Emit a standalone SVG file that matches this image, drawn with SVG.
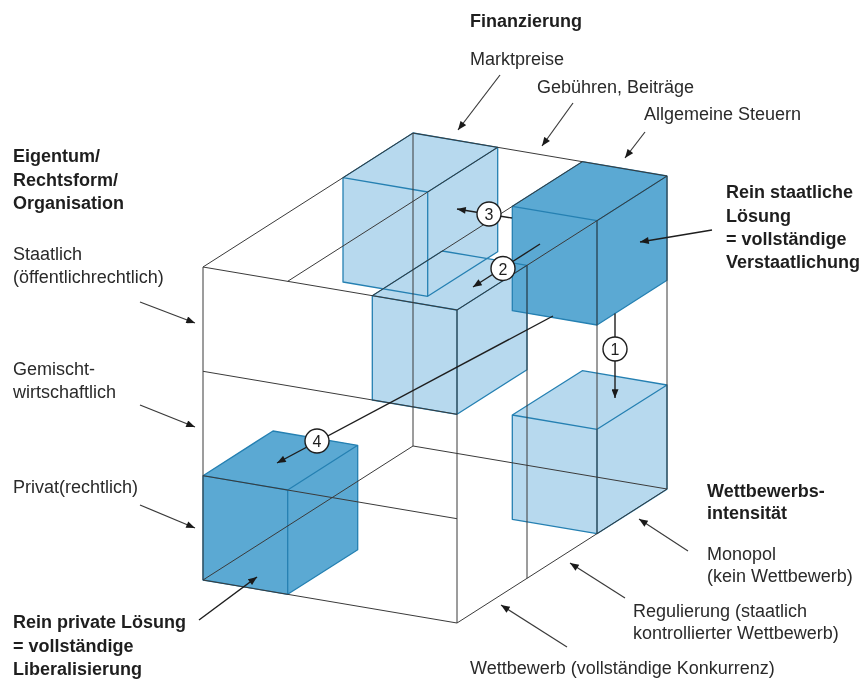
<svg xmlns="http://www.w3.org/2000/svg" width="862" height="680" viewBox="0 0 862 680">
<style>
  text { font-family: "Liberation Sans", Arial, sans-serif; font-size: 18px; fill: #2a2a2a; }
  .b { font-weight: bold; fill: #1e1e1e; }
  .lt { fill: #b7d9ee; mix-blend-mode: darken; }
  .dk { fill: #5ba9d3; mix-blend-mode: darken; }
  .edge { fill: none; stroke: #2580b2; stroke-width: 1.3; stroke-linejoin: round; }
  .wire { fill: none; stroke: #3a3a3a; stroke-width: 1; }
  .arr { fill: none; stroke: #1e1e1e; stroke-width: 1.4; marker-end: url(#ah); }
  .lbl { fill: none; stroke: #3a3a3a; stroke-width: 1.2; marker-end: url(#ah); }
  .num { fill: #ffffff; stroke: #1e1e1e; stroke-width: 1.4; }
  .nt { font-size: 16px; text-anchor: middle; fill: #1e1e1e; }
</style>
<defs>
  <marker id="ah" viewBox="0 0 10 8" refX="10" refY="4" markerWidth="10" markerHeight="7" markerUnits="userSpaceOnUse" orient="auto">
    <path d="M0,0 L10,4 L0,8 Z" fill="#1a1a1a"/>
  </marker>
</defs>

<!-- cubes, back to front -->
<g id="cube-markt-staat-monopol">
  <polygon class="lt" points="343,177.7 413,133 497.7,147.3 497.7,251.7 427.7,296.3 343,282"/>
  <path class="edge" d="M343,177.7 L413,133 L497.7,147.3 L497.7,251.7 L427.7,296.3 L343,282 Z M427.7,192 L343,177.7 M427.7,192 L497.7,147.3 M427.7,192 L427.7,296.3"/>
</g>
<g id="cube-rein-staatlich">
  <polygon class="dk" points="512.3,206.3 582.3,161.7 667,176 667,280.3 597,325 512.3,310.7"/>
  <path class="edge" d="M512.3,206.3 L582.3,161.7 L667,176 L667,280.3 L597,325 L512.3,310.7 Z M597,220.7 L512.3,206.3 M597,220.7 L667,176 M597,220.7 L597,325"/>
</g>
<g id="cube-steuern-privat-monopol">
  <polygon class="lt" points="512.3,415 582.3,370.7 667,385 667,489.3 597,533.7 512.3,519.3"/>
  <path class="edge" d="M512.3,415 L582.3,370.7 L667,385 L667,489.3 L597,533.7 L512.3,519.3 Z M597,429.3 L512.3,415 M597,429.3 L667,385 M597,429.3 L597,533.7"/>
</g>
<g id="cube-steuern-staat-wettbewerb">
  <polygon class="lt" points="372.3,295.7 442.3,251 527,265.3 527,369.7 457,414.3 372.3,400"/>
  <path class="edge" d="M372.3,295.7 L442.3,251 L527,265.3 L527,369.7 L457,414.3 L372.3,400 Z M457,310 L372.3,295.7 M457,310 L527,265.3 M457,310 L457,414.3"/>
</g>
<g id="cube-rein-privat">
  <polygon class="dk" points="203,475.7 273,431 357.7,445.3 357.7,549.7 287.7,594.3 203,580"/>
  <path class="edge" d="M203,475.7 L273,431 L357.7,445.3 L357.7,549.7 L287.7,594.3 L203,580 Z M287.7,490 L203,475.7 M287.7,490 L357.7,445.3 M287.7,490 L287.7,594.3"/>
</g>

<!-- wireframe of the big cube -->
<g id="frame">
  <path class="wire" d="M203,267 L457,310 L457,623 L203,580 Z M413,133 L667,176 L667,489 L413,446 Z M203,267 L413,133 M457,310 L667,176 M457,623 L667,489 M203,580 L413,446"/>
  <path class="wire" d="M203,371.3 L457,414.3 M203,475.7 L457,518.7 M287.7,281.3 L497.7,147.3 M372.3,295.7 L582.3,161.7 M527,265.3 L527,578.3 M597,220.7 L597,533.7"/>
</g>

<!-- connectors -->
<g id="connectors">
  <line class="arr" x1="615" y1="313.5" x2="615" y2="398"/>
  <line class="arr" x1="540" y1="244" x2="473" y2="287"/>
  <line class="arr" x1="512" y1="218" x2="457" y2="209"/>
  <line class="arr" x1="553" y1="316" x2="277" y2="463"/>
  <circle class="num" cx="615" cy="349" r="12"/>
  <circle class="num" cx="503" cy="268.5" r="12"/>
  <circle class="num" cx="489" cy="214" r="12"/>
  <circle class="num" cx="317" cy="441" r="12"/>
  <text class="nt" x="615" y="355">1</text>
  <text class="nt" x="503" y="274.5">2</text>
  <text class="nt" x="489" y="220">3</text>
  <text class="nt" x="317" y="447">4</text>

  <line class="lbl" x1="500" y1="75" x2="458" y2="130"/>
  <line class="lbl" x1="573" y1="103" x2="542" y2="146"/>
  <line class="lbl" x1="645" y1="132" x2="625" y2="158"/>
  <line class="lbl" x1="140" y1="302" x2="195" y2="323"/>
  <line class="lbl" x1="140" y1="405" x2="195" y2="427"/>
  <line class="lbl" x1="140" y1="505" x2="195" y2="528"/>
  <line class="arr" x1="199" y1="620" x2="257" y2="577"/>
  <line class="arr" x1="712" y1="230" x2="640" y2="242"/>
  <line class="lbl" x1="688" y1="551" x2="639" y2="519"/>
  <line class="lbl" x1="625" y1="598" x2="570" y2="563"/>
  <line class="lbl" x1="567" y1="647" x2="501" y2="605"/>
</g>

<!-- labels -->
<g id="label-finanzierung">
  <text class="b" x="470" y="27">Finanzierung</text>
  <text x="470" y="65">Marktpreise</text>
  <text x="537" y="93">Gebühren, Beiträge</text>
  <text x="644" y="120">Allgemeine Steuern</text>
</g>
<g id="label-eigentum">
  <text class="b" x="13" y="162">Eigentum/</text>
  <text class="b" x="13" y="186">Rechtsform/</text>
  <text class="b" x="13" y="209">Organisation</text>
  <text x="13" y="260">Staatlich</text>
  <text x="13" y="283">(öffentlichrechtlich)</text>
  <text x="13" y="375">Gemischt-</text>
  <text x="13" y="398">wirtschaftlich</text>
  <text x="13" y="493">Privat(rechtlich)</text>
</g>
<g id="label-rein-privat">
  <text class="b" x="13" y="628">Rein private Lösung</text>
  <text class="b" x="13" y="652">= vollständige</text>
  <text class="b" x="13" y="675">Liberalisierung</text>
</g>
<g id="label-rein-staatlich">
  <text class="b" x="726" y="198">Rein staatliche</text>
  <text class="b" x="726" y="222">Lösung</text>
  <text class="b" x="726" y="245">= vollständige</text>
  <text class="b" x="726" y="268">Verstaatlichung</text>
</g>
<g id="label-wettbewerb">
  <text class="b" x="707" y="497">Wettbewerbs-</text>
  <text class="b" x="707" y="519">intensität</text>
  <text x="707" y="560">Monopol</text>
  <text x="707" y="582">(kein Wettbewerb)</text>
  <text x="633" y="617">Regulierung (staatlich</text>
  <text x="633" y="639">kontrollierter Wettbewerb)</text>
  <text x="470" y="674">Wettbewerb (vollständige Konkurrenz)</text>
</g>
</svg>
